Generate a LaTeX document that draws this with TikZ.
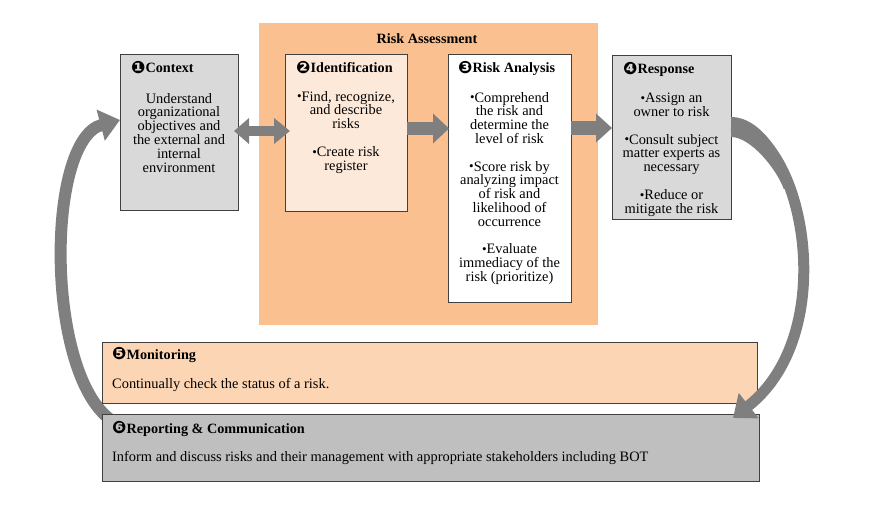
\documentclass[tikz,border=0pt]{standalone}
\usepackage{fontspec}
\setmainfont{Liberation Serif}
\newfontfamily\dv{DejaVu Sans}
\usetikzlibrary{arrows.meta,calc}
\definecolor{ctxgray}{HTML}{D9D9D9}
\definecolor{raorange}{HTML}{FAC090}
\definecolor{idpeach}{HTML}{FDE9D9}
\definecolor{monpeach}{HTML}{FCD5B4}
\definecolor{repgray}{HTML}{BFBFBF}
\definecolor{arrgray}{HTML}{7F7F7F}
\definecolor{edgegray}{HTML}{404040}
\newcommand{\bul}{{\fontsize{13}{13}\selectfont\raisebox{0.3pt}{•}}}
\newcommand{\num}[1]{{\dv\fontsize{17}{17}\selectfont\raisebox{-0.5pt}{#1}}}
\begin{document}
\begin{tikzpicture}[x=1pt,y=-1pt,
  font=\fontsize{14.4}{13.8}\selectfont,
  box/.style={draw=edgegray, line width=0.9pt, inner sep=0pt, outer sep=0pt, anchor=north west},
  ttl/.style={anchor=base west, inner sep=0pt, font=\fontsize{14.2}{14}\selectfont\bfseries},
  bodytext/.style={anchor=north, align=center, inner sep=0pt},
  plain/.style={anchor=base west, inner sep=0pt},
  blk/.style={draw=arrgray, line width=#1},
  curvearrow/.style={draw=arrgray, line width=#1, -{Triangle[length=20pt,width=31pt]}}
]
\useasboundingbox (0,0) rectangle (872,513);

% risk assessment background
\node[anchor=north west, fill=raorange, inner sep=0pt, minimum width=339pt, minimum height=302pt] (rabg) at (259,23) {};
\node[anchor=base, inner sep=0pt, font=\fontsize{14.2}{14}\selectfont\bfseries] (ratitle) at (427,44) {Risk Assessment};

% boxes (empty named nodes)
\node[box, fill=ctxgray, minimum width=118pt, minimum height=156pt] (ctx) at (120,54) {};
\node[box, fill=idpeach, minimum width=122pt, minimum height=157pt] (ident) at (285,54) {};
\node[box, fill=white, minimum width=123pt, minimum height=248pt] (ra) at (448,54) {};
\node[box, fill=ctxgray, minimum width=119pt, minimum height=164pt] (resp) at (612,55) {};

% left curved arrow (tail behind bottom boxes)
\coordinate (ltail) at ($(ctx.south west)+(-6,212)$);
\coordinate (ltip) at ($(ctx.west)+(0,-12)$);
\draw[curvearrow=12pt] (ltail) .. controls (45,380) and (45,140) .. (ltip);

\node[box, fill=monpeach, minimum width=655pt, minimum height=61pt] (mon) at (102,342) {};
\node[box, fill=repgray, minimum width=657pt, minimum height=67pt] (rep) at (102,414) {};

% right curved arrow (on top), widening towards its start
\coordinate (rstart) at ($(resp.east)+(0,-10)$);
\coordinate (rtip) at ($(rep.north east)+(-26,4)$);
\draw[curvearrow=11pt] (rstart) .. controls (800,125) and (845,330) .. (rtip);
\fill[arrgray] ($(rstart)+(0,-10)$) .. controls (763,117) and (785.9,161.7) .. (794.1,185.3)
  -- (783.7,188.9) .. controls (777.1,170) and (751,137) .. ($(rstart)+(0,10)$) -- cycle;

% block arrows
\coordinate (ya) at (0,131);
\coordinate (yb) at (0,128.5);
\coordinate (yc) at (0,128);
\draw[blk=10pt, {Triangle[length=15pt,width=25pt]}-{Triangle[length=16pt,width=25pt]}]
  ($(ctx.east|-ya)+(-4,0)$) -- ($(ident.west|-ya)+(5,0)$);
\draw[blk=13pt, -{Triangle[length=16pt,width=29pt]}]
  (ident.east|-yb) -- ($(ra.west|-yb)+(1,0)$);
\draw[blk=14pt, -{Triangle[length=16pt,width=28pt]}]
  (ra.east|-yc) -- (resp.west|-yc);

% titles
\node[ttl] (t1) at (131,73) {\num{❶}Context};
\node[ttl] (t2) at (296,73) {\num{❷}Identification};
\node[ttl] (t3) at (458,73) {\num{❸}Risk Analysis};
\node[ttl] (t4) at (623,74) {\num{❹}Response};
\node[ttl] (t5) at (112,359) {\num{❺}Monitoring};
\node[ttl] (t6) at (112,433) {\num{❻}Reporting \& Communication};

% bodies
\node[bodytext] (b1) at (179,93) {Understand\\organizational\\objectives and\\the external and\\internal\\environment};
\node[bodytext] (b2) at (346,91) {\bul Find, recognize,\\and describe\\risks\\[13.8pt]\bul Create risk\\register};
\node[bodytext] (b3) at (509.5,92) {\bul Comprehend\\the risk and\\determine the\\level of risk\\[13.8pt]\bul Score risk by\\analyzing impact\\of risk and\\likelihood of\\occurrence\\[13.8pt]\bul Evaluate\\immediacy of the\\risk (prioritize)};
\node[bodytext] (b4) at (671.5,93) {\bul Assign an\\owner to risk\\[13.8pt]\bul Consult subject\\matter experts as\\necessary\\[13.8pt]\bul Reduce or\\mitigate the risk};
\node[plain] (b5) at (112,388) {Continually check the status of a risk.};
\node[plain] (b6) at (112,461) {Inform and discuss risks and their management with appropriate stakeholders including BOT};
\end{tikzpicture}
\end{document}
